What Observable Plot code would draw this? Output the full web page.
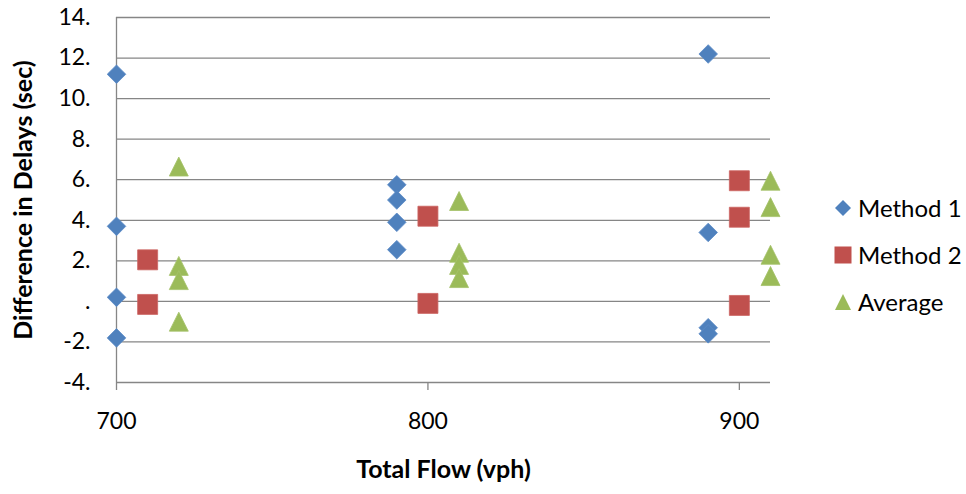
<!DOCTYPE html>
<html><head><meta charset="utf-8">
<script src="https://cdn.jsdelivr.net/npm/d3@7"></script>
<script src="https://cdn.jsdelivr.net/npm/@observablehq/plot@0.6"></script>
<style>
body{margin:0;background:#fff;}
#wrap{position:relative;width:966px;height:494px;font-family:Lato, "Open Sans", sans-serif;color:#000;}
#legend{position:absolute;left:834px;top:184px;}
.row{display:flex;align-items:center;height:47px;font-size:24px;}
.row svg{margin-right:6px;}
</style></head><body><div id="wrap"></div>
<script>
// ---- data ----
const seriesNames = ["Method 1", "Method 2", "Average"];
const seriesColors = ["#4F81BD", "#C0504D", "#9BBB59"];
const m1x = [700,700,700,700, 790,790,790,790, 890,890,890,890];
const m1y = [11.2,3.7,0.2,-1.8, 5.75,5.0,3.9,2.55, 12.2,3.4,-1.3,-1.6];
const m2x = [710,710, 800,800, 900,900,900];
const m2y = [2.05,-0.15, 4.2,-0.1, 5.95,4.15,-0.2];
const avx = [720,720,720,720, 810,810,810,810, 910,910,910,910];
const avy = [6.65,1.75,1.05,-1.0, 4.95,2.4,1.8,1.15, 5.95,4.65,2.3,1.25];
const yTicks = [-4,-2,0,2,4,6,8,10,12,14];
const xTicks = [700,800,900];
const yTickLabels = ["-4.","-2.",".","2.","4.","6.","8.","10.","12.","14."];

// custom symbols: half-extent = r
const diamond = {draw(ctx, size){const h=Math.sqrt(size/Math.PI);ctx.moveTo(0,-h);ctx.lineTo(h,0);ctx.lineTo(0,h);ctx.lineTo(-h,0);ctx.closePath();}};
const square = {draw(ctx, size){const h=Math.sqrt(size/Math.PI);ctx.moveTo(-h,-h);ctx.lineTo(h,-h);ctx.lineTo(h,h);ctx.lineTo(-h,h);ctx.closePath();}};
const triangle = {draw(ctx, size){const h=Math.sqrt(size/Math.PI);ctx.moveTo(0,-h);ctx.lineTo(h,h);ctx.lineTo(-h,h);ctx.closePath();}};

const toRows = (xs, ys) => xs.map((x, i) => ({x, y: ys[i]}));
const d1 = toRows(m1x, m1y), d2 = toRows(m2x, m2y), d3r = toRows(avx, avy);

const grid = "#868686";
const chart = Plot.plot({
  width: 966, height: 494,
  marginLeft: 116, marginRight: 196, marginTop: 17, marginBottom: 112,
  style: {fontFamily: "Lato, 'Open Sans', sans-serif", fontSize: "23px", background: "#fff", color: "#000", overflow: "visible"},
  x: {domain: [700, 910]},
  y: {domain: [-4, 14]},
  marks: [
    Plot.gridY(yTicks, {stroke: grid, strokeOpacity: 1, strokeWidth: 1.3}),
    Plot.ruleX([700], {stroke: grid, strokeWidth: 1.3}),
    Plot.axisY(yTicks, {tickSize: 0, tickPadding: 26, tickFormat: d => yTickLabels[yTicks.indexOf(d)], label: null, fontSize: 23}),
    Plot.axisX(xTicks, {tickSize: 8, tickPadding: 22, stroke: grid, strokeWidth: 1.3, label: null, fontSize: 23, tickFormat: d => String(d)}),
    Plot.dot(d1, {x: "x", y: "y", symbol: diamond, r: 9.3, fill: seriesColors[0], stroke: "#5A8AC6", strokeWidth: 0.8}),
    Plot.dot(d2, {x: "x", y: "y", symbol: square, r: 10, fill: seriesColors[1], stroke: "#CB6462", strokeWidth: 0.8}),
    Plot.dot(d3r, {x: "x", y: "y", symbol: triangle, r: 9.5, fill: seriesColors[2], stroke: "#A5C26A", strokeWidth: 0.8}),
    Plot.text(["Total Flow (vph)"], {frameAnchor: "bottom", dy: 95, fontWeight: "bold", fontSize: 25}),
    Plot.text(["Difference in Delays (sec)"], {frameAnchor: "left", textAnchor: "middle", dx: -93, rotate: -90, fontWeight: "bold", fontSize: 25})
  ]
});
const wrap = document.getElementById("wrap");
wrap.appendChild(chart);

// legend
const legend = document.createElement("div");
legend.id = "legend";
const shapes = [
  '<polygon points="9,1 17,9 9,17 1,9" />',
  '<rect x="0.5" y="0.5" width="17" height="17" />',
  '<polygon points="9,1 17,17 1,17" />'
];
seriesNames.forEach((name, i) => {
  const row = document.createElement("div");
  row.className = "row";
  row.innerHTML = `<svg width="18" height="18" viewBox="0 0 18 18" fill="${seriesColors[i]}">${shapes[i]}</svg><span>${name}</span>`;
  legend.appendChild(row);
});
wrap.appendChild(legend);
</script></body></html>
